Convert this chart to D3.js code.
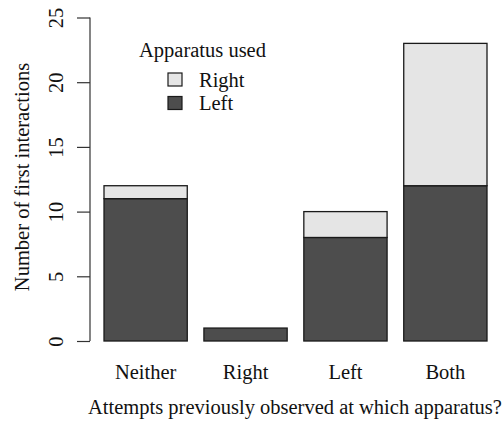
<!DOCTYPE html>
<html><head><meta charset="utf-8">
<script src="https://cdn.jsdelivr.net/npm/d3@7"></script>
<style>body{margin:0;background:#fff}svg{display:block}text{font-family:"Liberation Serif","Times New Roman",serif;fill:#111}</style>
</head><body>
<script>
const categories = ["Neither", "Right", "Left", "Both"];
const leftValues = [11, 1, 8, 12];
const rightValues = [1, 0, 2, 11];
const yTicks = [0, 5, 10, 15, 20, 25];
const seriesNames = ["Right", "Left"];

const W = 504, H = 421, FS = 20.5;
const svg = d3.select("body").append("svg").attr("width", W).attr("height", H);

const x = d3.scaleBand().domain(categories).range([104, 487]).paddingInner(1/6).paddingOuter(0);
const y = d3.scaleLinear().domain([0, 25]).range([341, 17.5]);

const dark = "#4d4d4d", light = "#e5e5e5", stroke = "#1a1a1a";

const data = categories.map((c, i) => ({c, left: leftValues[i], right: rightValues[i]}));

const g = svg.append("g");
g.selectAll("rect.l").data(data).enter().append("rect")
  .attr("x", d => x(d.c)).attr("width", x.bandwidth())
  .attr("y", d => y(d.left)).attr("height", d => y(0) - y(d.left))
  .attr("fill", dark).attr("stroke", stroke).attr("stroke-width", 1.3);
g.selectAll("rect.r").data(data.filter(d => d.right > 0)).enter().append("rect")
  .attr("x", d => x(d.c)).attr("width", x.bandwidth())
  .attr("y", d => y(d.left + d.right)).attr("height", d => y(d.left) - y(d.left + d.right))
  .attr("fill", light).attr("stroke", stroke).attr("stroke-width", 1.3);

// y axis
const yAxis = d3.axisLeft(y).tickValues(yTicks).tickSize(13).tickPadding(0).tickFormat(d3.format("d"));
const ya = svg.append("g").attr("transform", "translate(90,0)").call(yAxis);
ya.select(".domain").attr("stroke", "#333").attr("stroke-width", 1.2).attr("d", `M0,${y(0)}V${y(25)}`);
ya.selectAll(".tick line").attr("stroke", "#333").attr("stroke-width", 1.2);
ya.selectAll(".tick text").attr("font-size", FS).attr("fill", "#111")
  .attr("text-anchor", "middle").attr("transform", "translate(-34,0) rotate(-90)").attr("x", 0).attr("dy", "0.35em");

// x labels
const xa = svg.append("g").attr("transform", "translate(0,341)").call(d3.axisBottom(x).tickSize(0).tickPadding(0));
xa.select(".domain").remove();
xa.selectAll(".tick text").attr("font-size", FS).attr("fill", "#111").attr("y", 31).attr("dy", "0.35em");

// titles
svg.append("text").attr("x", 295).attr("y", 407).attr("dy", "0.35em").attr("text-anchor", "middle")
  .attr("font-size", FS).text("Attempts previously observed at which apparatus?");
svg.append("text").attr("transform", "translate(22,177) rotate(-90)").attr("dy", "0.35em").attr("text-anchor", "middle")
  .attr("font-size", FS).text("Number of first interactions");

// legend
const lg = svg.append("g");
lg.append("text").attr("x", 202.5).attr("y", 50).attr("dy", "0.35em").attr("text-anchor", "middle").attr("font-size", FS).text("Apparatus used");
const legColors = [light, dark];
seriesNames.forEach((n, i) => {
  const yy = 79.5 + i * 23.5;
  lg.append("rect").attr("x", 168).attr("y", yy - 6.5).attr("width", 14).attr("height", 13)
    .attr("fill", legColors[i]).attr("stroke", stroke).attr("stroke-width", 1.2);
  lg.append("text").attr("x", 199).attr("y", yy).attr("dy", "0.35em").attr("font-size", FS).text(n);
});
</script>
</body></html>
